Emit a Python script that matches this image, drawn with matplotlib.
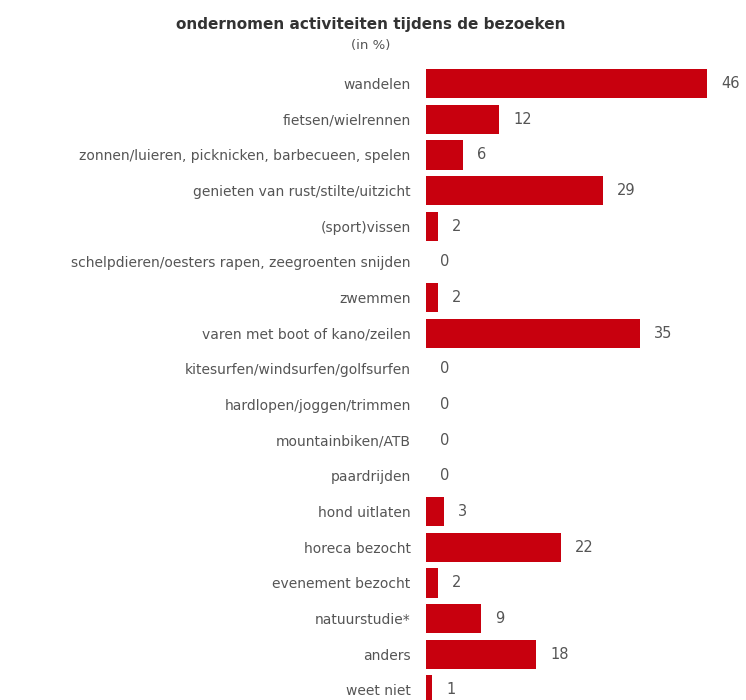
import matplotlib
matplotlib.use("Agg")
import matplotlib.pyplot as plt

# activiteiten en percentages
categories = [
    "wandelen",
    "fietsen/wielrennen",
    "zonnen/luieren, picknicken, barbecueen, spelen",
    "genieten van rust/stilte/uitzicht",
    "(sport)vissen",
    "schelpdieren/oesters rapen, zeegroenten snijden",
    "zwemmen",
    "varen met boot of kano/zeilen",
    "kitesurfen/windsurfen/golfsurfen",
    "hardlopen/joggen/trimmen",
    "mountainbiken/ATB",
    "paardrijden",
    "hond uitlaten",
    "horeca bezocht",
    "evenement bezocht",
    "natuurstudie*",
    "anders",
    "weet niet",
]
values = [46, 12, 6, 29, 2, 0, 2, 35, 0, 0, 0, 0, 3, 22, 2, 9, 18, 1]

bar_color = "#c8000e"
text_color = "#555555"

fig = plt.figure(figsize=(7.46, 7.0), dpi=100)
ax = fig.add_axes([0.571, -0.011, 0.41, 0.917])

pos = list(range(len(categories)))
ax.barh(pos, values, height=0.82, color=bar_color, linewidth=0)
ax.set_ylim(len(categories) - 0.5, -0.5)
ax.set_xlim(0, 50)

ax.set_yticks(pos)
ax.set_yticklabels(categories, fontsize=10, color=text_color)
ax.tick_params(axis="y", length=0, pad=11)
ax.set_xticks([])
for s in ax.spines.values():
    s.set_visible(False)

for p, v in zip(pos, values):
    ax.annotate(str(v), (v, p), xytext=(10, 0), textcoords="offset points",
                va="center", ha="left", fontsize=10.5, color=text_color)

fig.text(0.497, 0.965, "ondernomen activiteiten tijdens de bezoeken",
         ha="center", va="center", fontsize=11, fontweight="bold", color="#333333")
fig.text(0.497, 0.935, "(in %)", ha="center", va="center", fontsize=9.5, color=text_color)

fig.savefig("out.png", dpi=100)
